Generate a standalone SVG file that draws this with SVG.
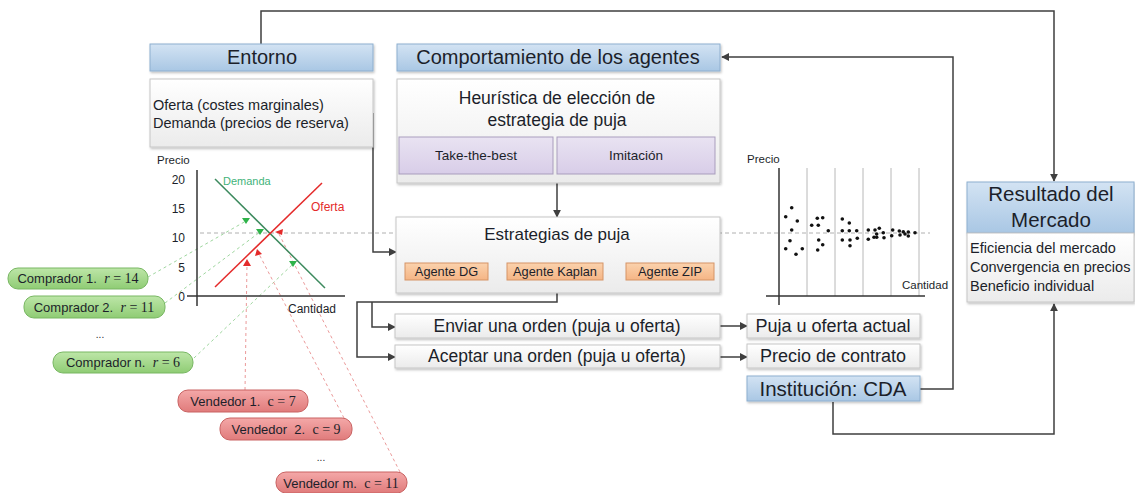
<svg xmlns="http://www.w3.org/2000/svg" width="1135" height="493" viewBox="0 0 1135 493">
<defs>
<linearGradient id="gHead" x1="0" y1="0" x2="0" y2="1"><stop offset="0" stop-color="#d3e3f3"/><stop offset="1" stop-color="#a9c7e4"/></linearGradient>
<linearGradient id="gBody" x1="0" y1="0" x2="0" y2="1"><stop offset="0" stop-color="#ffffff"/><stop offset="1" stop-color="#ebebeb"/></linearGradient>
<linearGradient id="gLav" x1="0" y1="0" x2="0" y2="1"><stop offset="0" stop-color="#e9e3f2"/><stop offset="1" stop-color="#d8cde8"/></linearGradient>
<linearGradient id="gOr" x1="0" y1="0" x2="0" y2="1"><stop offset="0" stop-color="#fbd2ad"/><stop offset="1" stop-color="#f5b585"/></linearGradient>
<linearGradient id="gGreen" x1="0" y1="0" x2="0" y2="1"><stop offset="0" stop-color="#bde6a8"/><stop offset="1" stop-color="#8fcc74"/></linearGradient>
<linearGradient id="gRed" x1="0" y1="0" x2="0" y2="1"><stop offset="0" stop-color="#f4a8a8"/><stop offset="1" stop-color="#e07b7b"/></linearGradient>
<filter id="sh" x="-5%" y="-10%" width="110%" height="130%"><feDropShadow dx="1" dy="1.5" stdDeviation="1" flood-color="#000" flood-opacity="0.25"/></filter>
<marker id="arr" viewBox="0 0 10 10" refX="9" refY="5" markerWidth="8" markerHeight="8" markerUnits="userSpaceOnUse" orient="auto"><path d="M0,0 L10,5 L0,10 z" fill="#3f3f3f"/></marker>
<style>
text{font-family:"Liberation Sans",Arial,sans-serif;fill:#1c1f2a}
.head{fill:url(#gHead);stroke:#8eafcf;stroke-width:1}
.body{fill:url(#gBody);stroke:#c6c6c6;stroke-width:1}
.lav{fill:url(#gLav);stroke:#a99dbd;stroke-width:1}
.org{fill:url(#gOr);stroke:#d59467;stroke-width:1}
.pg{fill:url(#gGreen);stroke:#78b762;stroke-width:1}
.pr{fill:url(#gRed);stroke:#c96262;stroke-width:1}
.conn{fill:none;stroke:#3f3f3f;stroke-width:1.5}
.ax{fill:none;stroke:#333;stroke-width:1.5}
.grid{stroke:#b8b8b8;stroke-width:1}
.dg{fill:none;stroke:#b0b0b0;stroke-width:1;stroke-dasharray:4 3}
.dgr{fill:none;stroke:#9ed69e;stroke-width:1;stroke-dasharray:3 3}
.drd{fill:none;stroke:#eb9a9a;stroke-width:1;stroke-dasharray:3 3}
.c{text-anchor:middle}
.m{font-family:"Liberation Serif","Times New Roman",serif;font-size:14px}
</style>
</defs>
<rect width="1135" height="493" fill="#ffffff"/>

<!-- background dashed guide lines -->
<g id="guides">
<line class="dg" x1="200" y1="233" x2="930" y2="233"/>
<path class="dgr" d="M148,277 L246,221"/>
<path class="dgr" d="M165,303 L260,232"/>
<path class="dgr" d="M194,358 L293,264"/>
<path class="drd" d="M245,390 L247,264"/>
<path class="drd" d="M344,418 L259,254"/>
<path class="drd" d="M400,472 L279,234"/>
</g>

<!-- connectors -->
<g id="connectors">
<path class="conn" d="M261,44 V11 H1054 V181" marker-end="url(#arr)"/>
<path class="conn" d="M920,389 H953 V57 H722" marker-end="url(#arr)"/>
<path class="conn" d="M833,402 V434 H1054 V304" marker-end="url(#arr)"/>
<path class="conn" d="M373,113 V252 H396" marker-end="url(#arr)"/>
<path class="conn" d="M557,183 V217" marker-end="url(#arr)"/>
<path class="conn" d="M557,293 V302 H357 V357 H395" marker-end="url(#arr)"/>
<path class="conn" d="M372,302 V327 H395" marker-end="url(#arr)"/>
<path class="conn" d="M720,326 H747" marker-end="url(#arr)"/>
<path class="conn" d="M720,357 H747" marker-end="url(#arr)"/>
</g>

<g id="entorno">
<rect class="head" x="150" y="44" width="223" height="27" filter="url(#sh)"/>
<text class="c" x="262" y="64" font-size="20">Entorno</text>
<rect class="body" x="150" y="79" width="223" height="68" filter="url(#sh)"/>
<text x="153" y="110" font-size="14.5">Oferta (costes marginales)</text>
<text x="153" y="128" font-size="14.5">Demanda (precios de reserva)</text>
</g>

<g id="supply-demand-chart">
<text x="157" y="164" font-size="11.5">Precio</text>
<line class="ax" x1="197" y1="170" x2="197" y2="306"/>
<line class="ax" x1="187" y1="296" x2="345" y2="296"/>
<text x="185" y="184" font-size="12" text-anchor="end">20</text>
<text x="185" y="213" font-size="12" text-anchor="end">15</text>
<text x="185" y="242" font-size="12" text-anchor="end">10</text>
<text x="185" y="272" font-size="12" text-anchor="end">5</text>
<text x="185" y="301" font-size="12" text-anchor="end">0</text>
<text x="288" y="313" font-size="12">Cantidad</text>
<line x1="215" y1="179" x2="325" y2="288" stroke="#3d8a5e" stroke-width="1.5"/>
<line x1="215" y1="287" x2="322" y2="183" stroke="#e42a2a" stroke-width="1.5"/>
<text x="223" y="185" font-size="11" style="fill:#3fb37a">Demanda</text>
<text x="311" y="211" font-size="12" style="fill:#e42a2a">Oferta</text>
<polygon points="242,218 250,218 246,224" fill="#2fb34a"/>
<polygon points="256,229 264,229 260,235" fill="#2fb34a"/>
<polygon points="289,261 297,261 293,267" fill="#2fb34a"/>
<polygon points="275,232 283,229 282,235" fill="#e42a2a"/>
<polygon points="247,259 243,266 251,266" fill="#e42a2a"/>
<polygon points="257,249 255,256 262,254" fill="#e42a2a"/>
</g>

<g id="compradores">
<rect class="pg" x="8" y="268" width="140" height="21" rx="10"/>
<text class="c" x="78" y="283" font-size="13">Comprador 1.&#160; <tspan class="m" font-style="italic">r</tspan><tspan class="m"> = 14</tspan></text>
<rect class="pg" x="24" y="296" width="141" height="22" rx="10"/>
<text class="c" x="94" y="312" font-size="13">Comprador 2.&#160; <tspan class="m" font-style="italic">r</tspan><tspan class="m"> = 11</tspan></text>
<text class="c" x="100" y="338" font-size="10">...</text>
<rect class="pg" x="53" y="352" width="140" height="21" rx="10"/>
<text class="c" x="123" y="367" font-size="13">Comprador n.&#160; <tspan class="m" font-style="italic">r</tspan><tspan class="m"> = 6</tspan></text>
</g>

<g id="vendedores">
<rect class="pr" x="178" y="390" width="130" height="22" rx="10"/>
<text class="c" x="243" y="406" font-size="13">Vendedor 1.&#160; <tspan class="m">c = 7</tspan></text>
<rect class="pr" x="220" y="418" width="132" height="22" rx="10"/>
<text class="c" x="286" y="434" font-size="13">Vendedor&#160; 2.&#160; <tspan class="m">c = 9</tspan></text>
<text class="c" x="321" y="461" font-size="10">...</text>
<rect class="pr" x="276" y="472" width="131" height="21" rx="10"/>
<text class="c" x="341" y="488" font-size="13">Vendedor m.&#160; <tspan class="m">c = 11</tspan></text>
</g>

<g id="comportamiento">
<rect class="head" x="397" y="44" width="323" height="27" filter="url(#sh)"/>
<text class="c" x="558" y="64" font-size="20">Comportamiento de los agentes</text>
</g>

<g id="heuristica">
<rect class="body" x="397" y="79" width="323" height="104" filter="url(#sh)"/>
<text class="c" x="557" y="104" font-size="17.5">Heurística de elección de</text>
<text class="c" x="557" y="126" font-size="17.5">estrategia de puja</text>
<rect class="lav" x="399" y="137" width="154" height="37"/>
<text class="c" x="476" y="160" font-size="13.5">Take-the-best</text>
<rect class="lav" x="557" y="137" width="158" height="37"/>
<text class="c" x="636" y="160" font-size="13.5">Imitación</text>
</g>

<g id="estrategias">
<rect class="body" x="396" y="217" width="324" height="76" filter="url(#sh)"/>
<text class="c" x="557" y="240" font-size="17">Estrategias de puja</text>
<rect class="org" x="405" y="263" width="83" height="17"/>
<text class="c" x="446.5" y="276" font-size="12.8">Agente DG</text>
<rect class="org" x="507" y="263" width="96" height="17"/>
<text class="c" x="555" y="276" font-size="12.8">Agente Kaplan</text>
<rect class="org" x="626" y="263" width="88" height="17"/>
<text class="c" x="670" y="276" font-size="12.8">Agente ZIP</text>
</g>

<g id="enviar">
<rect class="body" x="395" y="314" width="325" height="24" filter="url(#sh)"/>
<text class="c" x="557" y="332" font-size="17.5">Enviar una orden (puja u oferta)</text>
</g>
<g id="aceptar">
<rect class="body" x="395" y="345" width="325" height="23" filter="url(#sh)"/>
<text class="c" x="557" y="362" font-size="17.5">Aceptar una orden (puja u oferta)</text>
</g>
<g id="puja-actual">
<rect class="body" x="747" y="314" width="173" height="24" filter="url(#sh)"/>
<text class="c" x="833" y="332" font-size="18">Puja u oferta actual</text>
</g>
<g id="precio-contrato">
<rect class="body" x="747" y="344" width="173" height="24" filter="url(#sh)"/>
<text class="c" x="833" y="362" font-size="18">Precio de contrato</text>
</g>
<g id="institucion">
<rect class="head" x="747" y="376" width="173" height="25" filter="url(#sh)"/>
<text class="c" x="833" y="396" font-size="20.5">Institución: CDA</text>
</g>

<g id="scatter-chart">
<text x="747" y="163" font-size="11.5">Precio</text>
<g class="grid">
<line x1="807" y1="168" x2="807" y2="296"/>
<line x1="835" y1="168" x2="835" y2="296"/>
<line x1="863" y1="168" x2="863" y2="296"/>
<line x1="891" y1="168" x2="891" y2="296"/>
<line x1="919" y1="168" x2="919" y2="296"/>
</g>
<text x="902" y="289" font-size="11.5">Cantidad</text>
<line class="ax" x1="779" y1="168" x2="779" y2="305"/>
<line class="ax" x1="766" y1="296" x2="925" y2="296"/>
<g fill="#111">
<circle cx="785.7" cy="216.7" r="1.8"/><circle cx="791.7" cy="207.7" r="1.8"/><circle cx="797.3" cy="221" r="1.8"/><circle cx="791.7" cy="230" r="1.8"/><circle cx="790" cy="240.7" r="1.8"/><circle cx="785.7" cy="248.7" r="1.8"/><circle cx="796" cy="254.3" r="1.8"/><circle cx="802.3" cy="248.7" r="1.8"/>
<circle cx="811.7" cy="225.3" r="1.8"/><circle cx="817.3" cy="218.3" r="1.8"/><circle cx="822.7" cy="217.7" r="1.8"/><circle cx="818.3" cy="225.3" r="1.8"/><circle cx="828.3" cy="230.7" r="1.8"/><circle cx="818.7" cy="240" r="1.8"/><circle cx="822.7" cy="244.7" r="1.8"/><circle cx="817.7" cy="250" r="1.8"/>
<circle cx="842.3" cy="219" r="1.8"/><circle cx="849.3" cy="223" r="1.8"/><circle cx="842.3" cy="230.7" r="1.8"/><circle cx="849.3" cy="230.7" r="1.8"/><circle cx="856.7" cy="230.7" r="1.8"/><circle cx="842.3" cy="240" r="1.8"/><circle cx="850" cy="240" r="1.8"/><circle cx="850" cy="245.7" r="1.8"/><circle cx="857.3" cy="238.3" r="1.8"/>
<circle cx="868.3" cy="230" r="1.8"/><circle cx="868.3" cy="239.3" r="1.8"/><circle cx="875" cy="230" r="1.8"/><circle cx="879.3" cy="228.3" r="1.8"/><circle cx="876.7" cy="234" r="1.8"/><circle cx="874" cy="237.3" r="1.8"/><circle cx="876.7" cy="237.3" r="1.8"/><circle cx="883.3" cy="232.7" r="1.8"/><circle cx="884" cy="237.7" r="1.8"/>
<circle cx="892.7" cy="230" r="1.8"/><circle cx="891.7" cy="235.7" r="1.8"/><circle cx="899.3" cy="231" r="1.8"/><circle cx="900" cy="235" r="1.8"/><circle cx="903.3" cy="231.7" r="1.8"/><circle cx="905" cy="234" r="1.8"/><circle cx="908.3" cy="236" r="1.8"/><circle cx="908.3" cy="232" r="1.8"/><circle cx="915" cy="232.7" r="1.8"/>
</g>
</g>

<g id="resultado">
<rect class="head" x="967" y="182" width="167" height="51" filter="url(#sh)"/>
<text class="c" x="1051" y="201" font-size="20.5">Resultado del</text>
<text class="c" x="1051" y="227" font-size="20.5">Mercado</text>
<rect class="body" x="967" y="233" width="167" height="69" filter="url(#sh)"/>
<text x="970" y="253" font-size="14.5">Eficiencia del mercado</text>
<text x="970" y="272" font-size="14.5">Convergencia en precios</text>
<text x="970" y="291" font-size="14.5">Beneficio individual</text>
</g>
</svg>
